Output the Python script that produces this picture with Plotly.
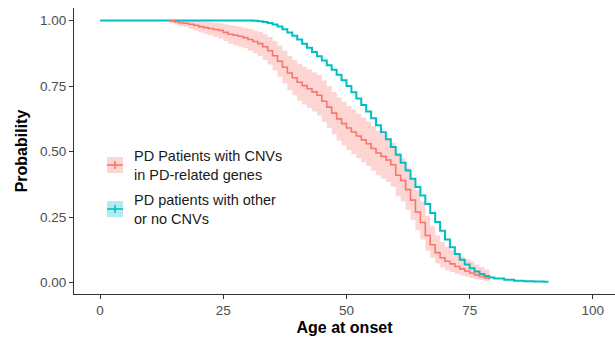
import plotly.graph_objects as go

# Kaplan-Meier style estimates of age at onset (probability of still being onset-free)
group_names = ["PD Patients with CNVs<br>in PD-related genes",
               "PD patients with other<br>or no CNVs"]
group_colors = ["#F8766D", "#00BFC4"]
band_color = "rgba(248,118,109,0.30)"

# Group 1: carriers of CNVs in PD-related genes (with 95% confidence band)
cnv_age = list(range(14, 80))
cnv_surv = [1.0, 0.996, 0.992, 0.99, 0.986, 0.982, 0.977, 0.973, 0.97, 0.966,
            0.962, 0.955, 0.948, 0.944, 0.94, 0.935, 0.928, 0.92, 0.912, 0.90,
            0.885, 0.866, 0.845, 0.822, 0.80, 0.782, 0.765, 0.752, 0.74, 0.728,
            0.715, 0.692, 0.67, 0.647, 0.625, 0.607, 0.59, 0.575, 0.56, 0.545,
            0.53, 0.512, 0.495, 0.482, 0.468, 0.45, 0.41, 0.39, 0.355, 0.315,
            0.27, 0.23, 0.18, 0.145, 0.115, 0.095, 0.082, 0.072, 0.062, 0.053,
            0.045, 0.037, 0.03, 0.024, 0.018, 0.012]
cnv_lower = [0.99, 0.985, 0.978, 0.975, 0.968, 0.962, 0.955, 0.949, 0.944, 0.938,
             0.932, 0.922, 0.912, 0.906, 0.90, 0.894, 0.885, 0.875, 0.865, 0.85,
             0.832, 0.81, 0.786, 0.76, 0.735, 0.715, 0.695, 0.68, 0.667, 0.653,
             0.638, 0.613, 0.59, 0.566, 0.543, 0.524, 0.506, 0.49, 0.475, 0.46,
             0.445, 0.427, 0.41, 0.397, 0.384, 0.366, 0.33, 0.31, 0.277, 0.24,
             0.20, 0.165, 0.123, 0.095, 0.073, 0.058, 0.048, 0.041, 0.034, 0.028,
             0.023, 0.018, 0.013, 0.01, 0.006, 0.003]
cnv_upper = [1.0, 1.0, 1.0, 1.0, 1.0, 1.0, 0.998, 0.996, 0.994, 0.992,
             0.99, 0.986, 0.982, 0.979, 0.976, 0.972, 0.968, 0.962, 0.956, 0.948,
             0.937, 0.922, 0.905, 0.885, 0.865, 0.85, 0.835, 0.824, 0.813, 0.803,
             0.792, 0.771, 0.75, 0.728, 0.707, 0.69, 0.674, 0.66, 0.645, 0.63,
             0.615, 0.597, 0.58, 0.567, 0.552, 0.534, 0.495, 0.475, 0.44, 0.398,
             0.352, 0.31, 0.255, 0.215, 0.18, 0.155, 0.138, 0.125, 0.112, 0.10,
             0.09, 0.08, 0.07, 0.06, 0.05, 0.04]

# Group 2: patients with other or no CNVs
other_age = [0, 30, 31, 32, 33, 34, 35, 36, 37, 38, 39, 40, 41, 42, 43, 44, 45,
             46, 47, 48, 49, 50, 51, 52, 53, 54, 55, 56, 57, 58, 59, 60, 61, 62,
             63, 64, 65, 66, 67, 68, 69, 70, 71, 72, 73, 74, 75, 76, 77, 78, 79,
             80, 82, 84, 86, 88, 90, 91]
other_surv = [1.0, 1.0, 0.999, 0.997, 0.995, 0.991, 0.985, 0.977, 0.967, 0.955,
              0.942, 0.928, 0.912, 0.896, 0.88, 0.864, 0.848, 0.83, 0.812, 0.793,
              0.772, 0.75, 0.727, 0.703, 0.678, 0.653, 0.627, 0.601, 0.574, 0.547,
              0.518, 0.488, 0.458, 0.428, 0.397, 0.365, 0.333, 0.30, 0.266, 0.232,
              0.198, 0.165, 0.135, 0.11, 0.088, 0.07, 0.055, 0.043, 0.033, 0.026,
              0.02, 0.016, 0.011, 0.008, 0.006, 0.005, 0.004, 0.004]

x_ticks = [0, 25, 50, 75, 100]
y_ticks = [0.0, 0.25, 0.5, 0.75, 1.0]

fig = go.Figure()

# confidence band for the CNV group
fig.add_trace(go.Scatter(x=cnv_age, y=cnv_lower, mode="lines",
                         line=dict(width=0, shape="hv", color=band_color),
                         hoverinfo="skip", showlegend=False))
fig.add_trace(go.Scatter(x=cnv_age, y=cnv_upper, mode="lines", fill="tonexty",
                         fillcolor=band_color,
                         line=dict(width=0, shape="hv", color=band_color),
                         hoverinfo="skip", showlegend=False))

fig.add_trace(go.Scatter(x=other_age, y=other_surv, mode="lines",
                         line=dict(color=group_colors[1], width=2, shape="hv"),
                         showlegend=False))
fig.add_trace(go.Scatter(x=cnv_age, y=cnv_surv, mode="lines",
                         line=dict(color=group_colors[0], width=1.6, shape="hv"),
                         showlegend=False))

# plot area in pixels: left 74, right 615, top 8, bottom 294
L, R, T, B = 74, 615, 8, 294


def px(x):
    return (x - L) / (R - L)


def py(y):
    return (B - y) / (B - T)


# hand-built legend: shaded key with a "+" glyph and two-line labels
key_fills = [band_color, "rgba(0,191,196,0.30)"]
key_centers = [165, 209]
shapes = []
annotations = []
for name, col, fillc, cy in zip(group_names, group_colors, key_fills, key_centers):
    shapes.append(dict(type="rect", xref="paper", yref="paper",
                       x0=px(107), x1=px(123), y0=py(cy + 8), y1=py(cy - 8),
                       fillcolor=fillc, line=dict(width=0), layer="above"))
    shapes.append(dict(type="line", xref="paper", yref="paper",
                       x0=px(107), x1=px(123), y0=py(cy), y1=py(cy),
                       line=dict(color=col, width=1.6), layer="above"))
    shapes.append(dict(type="line", xref="paper", yref="paper",
                       x0=px(115), x1=px(115), y0=py(cy - 4), y1=py(cy + 4),
                       line=dict(color=col, width=1.6), layer="above"))
    annotations.append(dict(xref="paper", yref="paper", x=px(132), y=py(cy),
                            xanchor="left", yanchor="middle", align="left",
                            text=name, showarrow=False,
                            font=dict(family="Liberation Sans, Arial", size=14.5,
                                      color="#1a1a1a")))

axis_line = "#333333"
fig.update_layout(
    width=615, height=337,
    margin=dict(l=L, r=615 - R, t=T, b=337 - B),
    paper_bgcolor="white", plot_bgcolor="white",
    font=dict(family="Liberation Sans, Arial", color="#4D4D4D"),
    shapes=shapes, annotations=annotations,
    showlegend=False,
    xaxis=dict(range=[-5.3, 104.5], tickvals=x_ticks, showgrid=False, zeroline=False,
               showline=True, linecolor=axis_line, linewidth=1.2,
               ticks="outside", ticklen=4, tickcolor=axis_line, tickwidth=1.1,
               tickfont=dict(size=13.5, color="#4D4D4D"),
               title=dict(text="<b>Age at onset</b>", standoff=4,
                          font=dict(size=16, color="black"))),
    yaxis=dict(range=[-0.043, 1.048], tickvals=y_ticks, tickformat=".2f",
               showgrid=False, zeroline=False,
               showline=True, linecolor=axis_line, linewidth=1.2,
               ticks="outside", ticklen=4, tickcolor=axis_line, tickwidth=1.1,
               tickfont=dict(size=13.5, color="#4D4D4D"),
               title=dict(text="<b>Probability</b>", standoff=8,
                          font=dict(size=16, color="black"))),
)

fig.write_html("out.html")
